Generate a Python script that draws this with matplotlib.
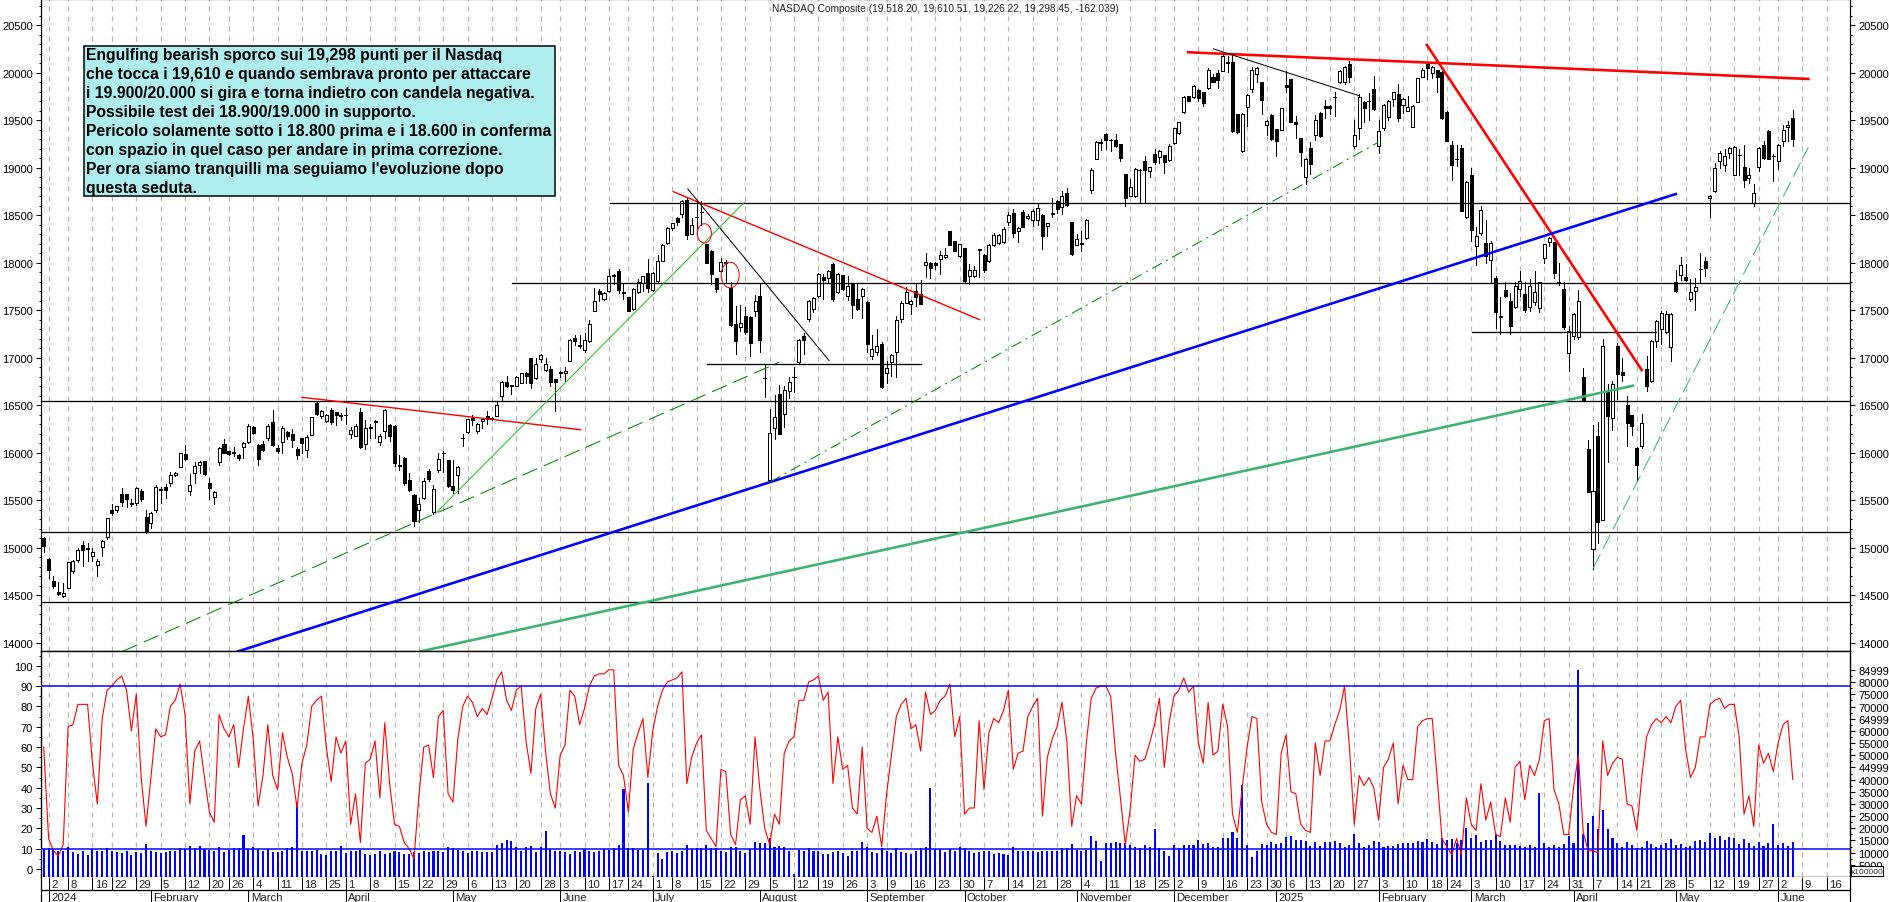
import matplotlib
matplotlib.use("Agg")
import matplotlib.pyplot as plt
from matplotlib.patches import Ellipse, Rectangle

plt.rcParams['font.family'] = ['Liberation Sans', 'DejaVu Sans']

TITLE = "NASDAQ Composite (19,518.20, 19,610.51, 19,226.22, 19,298.45, -162.039)"

opens = [15096,14879,14644,14528,14493,14570,14749,14868,15023,14995,
	14914,14819,15002,15107,15391,15398,15563,15563,15470,15468,
	15600,15321,15254,15395,15620,15637,15682,15767,15844,15980,
	15598,15781,15865,15907,15675,15535,15903,16086,16012,15990,
	15974,16061,16114,16265,16082,16090,16149,16317,16044,16114,
	16212,16200,16037,16149,16030,16188,16521,16384,16331,16444,
	16423,16390,16398,16198,16177,16423,16093,16272,16335,16107,
	16230,16286,16279,15870,15942,15707,15553,15398,15521,15802,
	15370,15819,16000,15921,15644,15760,16150,16212,16363,16226,
	16331,16380,16360,16388,16598,16739,16710,16697,16735,16837,
	16991,16781,16984,16872,16879,16774,16851,16833,16963,17202,
	17132,17082,17170,17493,17703,17616,17697,17868,17907,17690,
	17633,17510,17693,17785,17890,17714,17809,18020,18202,18367,
	18468,18510,18661,18304,18476,18535,18195,18121,17833,17914,
	18000,17735,17353,17318,17433,17423,17493,17644,16780,15714,
	16254,16616,16402,16644,16791,16949,17230,17406,17510,17651,
	17844,17833,17984,17686,17868,17651,17774,17616,17644,17581,
	17019,17061,17142,16833,16949,17061,17405,17574,17563,17703,
	17668,17974,17991,17995,18037,18055,18328,18226,18072,18153,
	17861,17861,18140,18083,18020,18184,18202,18212,18423,18521,
	18328,18528,18468,18451,18451,18500,18381,18525,18647,18581,
	18728,18423,18188,18210,18254,18767,19090,19255,19353,19290,
	19286,19244,18932,18704,18697,18977,19065,18967,19142,19107,
	19132,19079,19255,19360,19581,19749,19739,19820,19791,19834,
	19949,19995,20020,20110,20107,19563,19177,19640,19827,19984,
	19897,19451,19553,19405,19398,19869,19932,19475,19307,18904,
	19202,19342,19574,19651,19651,19745,19897,19897,20090,19230,
	19413,19686,19700,19826,19223,19416,19535,19721,19774,19662,
	19598,19430,19693,19956,20090,19991,20027,20009,19581,19237,
	19090,19205,18476,18921,18170,18307,18202,18026,17834,17440,
	17711,17598,17528,17721,17668,17528,17588,17517,18044,18212,
	18212,17798,17721,17044,17223,17212,16791,16037,14984,16177,
	15293,16633,16360,17118,16844,16500,16395,16047,16072,16879,
	16756,17177,17300,17265,17107,17791,17872,17844,17616,17703,
	17930,18012,18676,18756,19072,19030,19150,18925,19130,19002,
	18886,18627,19009,19237,19384,19125,19065,19283,19430,19518.20]

highs = [15110,14886,14696,14633,14626,14844,14870,15000,15065,15047,
	15000,14880,15075,15307,15457,15440,15627,15563,15510,15640,
	15618,15400,15375,15660,15640,15670,15790,15800,16000,16080,
	15770,15900,15915,15910,15730,15600,16060,16140,16020,16060,
	15985,16110,16300,16280,16090,16120,16300,16450,16080,16280,
	16225,16250,16060,16150,16180,16370,16540,16445,16410,16470,
	16430,16420,16470,16270,16300,16470,16340,16300,16345,16200,
	16460,16300,16290,15970,15950,15780,15560,15520,15730,15830,
	15660,15990,16020,15925,15925,15860,16190,16350,16390,16310,
	16355,16440,16370,16530,16750,16810,16710,16810,16840,16850,
	16995,16990,17040,16990,16915,16774,16860,16900,17200,17240,
	17240,17260,17400,17735,17720,17685,17930,17880,17930,17780,
	17640,17730,17830,17860,18040,17895,18080,18190,18370,18420,
	18480,18660,18680,18470,18650,18650,18200,18130,17840,18050,
	18030,17800,17546,17550,17528,17440,17660,17780,16925,16460,
	16610,16710,16705,16790,16900,17190,17260,17610,17640,17890,
	17880,17920,18000,17885,17870,17860,17780,17780,17730,17590,
	17240,17300,17160,16960,17040,17440,17590,17740,17610,17770,
	17820,18100,18010,18010,18120,18150,18330,18230,18200,18155,
	17980,17960,18140,18085,18200,18310,18300,18370,18530,18560,
	18370,18550,18510,18560,18620,18510,18420,18680,18660,18750,
	18780,18425,18300,18330,18460,19000,19280,19300,19360,19295,
	19350,19250,18935,18880,18990,18985,19120,19010,19190,19180,
	19135,19250,19420,19480,19750,19755,19870,19825,19800,20050,
	19985,20030,20200,20175,20190,19565,19570,19770,20060,20060,
	19900,19500,19560,19410,19630,20020,19935,19540,19310,19100,
	19270,19550,19585,19710,19655,19790,20030,20065,20120,19500,
	19770,19700,19780,19960,19500,19670,19710,19800,19880,19730,
	19750,19660,19945,20050,20110,20070,20030,20015,19590,19280,
	19240,19240,18860,18990,18370,18600,18450,18230,17860,17640,
	17800,17680,17800,17910,17800,17830,17910,17800,18200,18270,
	18220,18000,17790,17330,17470,17710,16890,16130,16290,16320,
	17190,16720,16750,17150,17000,16600,16400,16060,16410,17020,
	17180,17400,17490,17490,17470,17920,18060,17980,17830,17840,
	18095,18060,18710,19050,19170,19200,19215,19225,19190,19240,
	19000,18830,19220,19280,19395,19140,19245,19450,19490,19610.51]

lows = [14956,14680,14577,14500,14482,14570,14728,14850,14806,14854,
	14860,14698,14915,15090,15340,15370,15440,15430,15440,15450,
	15490,15150,15210,15370,15470,15520,15650,15750,15844,15920,
	15555,15680,15780,15760,15510,15460,15870,15990,15975,15960,
	15925,15940,16100,16195,15870,16020,16130,16070,15990,16000,
	16145,16060,15930,16000,15950,16180,16400,16360,16320,16300,
	16290,16340,16300,16150,16170,16050,16040,16150,16150,16080,
	16150,16120,15860,15820,15660,15590,15230,15270,15510,15700,
	15350,15790,15800,15640,15570,15570,16070,16210,16290,16210,
	16260,16300,16340,16385,16540,16690,16620,16695,16730,16730,
	16680,16770,16950,16860,16700,16440,16800,16750,16960,17130,
	17100,17060,17160,17490,17600,17610,17690,17770,17680,17620,
	17490,17500,17680,17700,17690,17700,17800,18015,18195,18340,
	18395,18480,18250,18300,18300,18390,17990,17775,17690,17900,
	17800,17330,17037,17280,17250,17015,17440,17060,16587,15700,
	16145,16190,16270,16570,16640,16945,17040,17380,17480,17640,
	17620,17790,17590,17680,17710,17610,17420,17500,17420,17060,
	16987,17030,16680,16730,16810,16790,17370,17570,17460,17540,
	17560,17850,17840,17935,17875,18050,18180,18120,18060,17790,
	17770,17850,17850,17900,18010,18170,18190,18205,18400,18270,
	18220,18370,18460,18380,18400,18140,18280,18480,18520,18510,
	18590,18080,18180,18120,18250,18730,19085,19180,19195,19170,
	19220,19070,18600,18700,18690,18630,18630,18900,19040,19050,
	18940,19070,19250,19355,19575,19695,19735,19700,19650,19830,
	19895,19835,20015,20010,19375,19360,19160,19440,19800,19900,
	19560,19340,19285,19120,19390,19790,19475,19310,19020,18830,
	18930,19290,19320,19520,19560,19540,19890,19880,19895,19210,
	19300,19480,19500,19610,19150,19400,19500,19650,19490,19570,
	19590,19425,19685,19950,19930,19940,19800,19510,19280,18870,
	19020,18540,18470,18230,17970,18290,18000,17785,17310,17250,
	17640,17250,17520,17650,17480,17490,17550,17480,18000,18170,
	17840,17760,17300,16860,17200,17190,16550,15580,14770,15050,
	15285,15900,16240,16560,16750,16070,16180,15700,16050,16650,
	16745,17110,17140,17260,16960,17690,17820,17810,17590,17500,
	17780,17860,18480,18740,18990,18960,19100,18920,18920,18800,
	18840,18600,18960,19090,19090,18860,18985,19230,19280,19226.22]

closes = [15012,14767,14598,14507,14524,14844,14861,14973,14977,14984,
	14949,14854,15065,15307,15367,15433,15482,15510,15460,15630,
	15510,15160,15360,15633,15610,15610,15767,15788,15991,15931,
	15654,15861,15903,15774,15630,15588,16044,15998,15980,16010,
	15942,16096,16279,16205,15931,16026,16275,16079,16016,16261,
	16177,16135,15974,16103,16163,16370,16405,16433,16391,16317,
	16395,16380,16398,16240,16275,16054,16254,16262,16325,16170,
	16444,16177,15889,15860,15675,15602,15279,15454,15696,15717,
	15612,15928,15990,15647,15602,15844,16150,16349,16338,16303,
	16349,16352,16350,16503,16739,16703,16697,16791,16833,16802,
	16735,16928,17026,16928,16746,16739,16833,16854,17188,17177,
	17118,17184,17350,17598,17665,17683,17855,17860,17714,17680,
	17493,17720,17798,17855,17728,17890,18020,18188,18360,18412,
	18430,18644,18290,18398,18476,18535,17995,17876,17721,18009,
	18005,17342,17177,17360,17270,17149,17591,17188,16780,16202,
	16370,16195,16661,16739,16791,17188,17188,17591,17626,17879,
	17816,17914,17616,17879,17721,17749,17556,17511,17721,17142,
	17089,17125,16686,16886,17026,17400,17574,17686,17598,17633,
	17567,18009,17946,17974,18075,18075,18184,18125,18195,17802,
	17925,17921,18135,17921,18184,18293,18290,18353,18504,18311,
	18360,18377,18493,18539,18570,18283,18412,18510,18563,18704,
	18606,18089,18248,18200,18447,18977,19265,19272,19293,19290,
	19230,19104,18679,18791,18984,18977,18977,19002,19055,19170,
	19062,19230,19413,19476,19739,19704,19855,19735,19679,20030,
	19904,19925,20170,20100,19388,19377,19563,19763,20030,20048,
	19711,19486,19300,19283,19623,19848,19483,19462,19160,19090,
	19040,19504,19335,19630,19630,19745,20013,20055,19950,19342,
	19739,19627,19695,19616,19388,19658,19697,19791,19521,19721,
	19640,19651,19942,20030,20044,20055,19956,19521,19283,19030,
	19085,18546,18844,18346,18283,18553,18072,18202,17475,17430,
	17651,17330,17749,17809,17504,17749,17686,17791,18191,18261,
	17890,17798,17318,17280,17458,17598,16556,15588,15598,15272,
	17118,16388,16721,16830,16819,16310,16282,15872,16307,16703,
	17170,17388,17468,17458,17458,17703,17977,17820,17686,17738,
	17930,17939,18704,18990,19150,19118,19209,19220,19130,18870,
	18925,18732,19202,19097,19090,19125,19240,19398,19451,19298.45]

# oscillator, left scale of the lower panel
osc = [60,15,9,6.5,12,70,71,81,81,81,
	52,32,74,88,90,93,95,88,68,86,
	45,21,45,69,65,66,80,83,91,76,
	32,58,63,45,28,23,76,69,65,71,
	50,69,85,64,31,46,71,46,39,67,
	55,47,30,52,61,80,83,85,60,43,
	65,57,63,22,37,13,52,54,63,35,
	72,42,22,21,13,10,5,36,60,61,
	45,75,78,37,33,64,80,85,82,75,
	79,76,84,93,97,83,78,88,90,63,
	47,79,86,58,37,30,56,61,88,85,
	71,79,90,95,96,96,98,98,51,46,
	28,59,67,74,45,68,80,88,92,93,
	94,97,42,55,62,66,19,15,11,49,
	48,17,12,34,36,22,65,39,20,12,
	27,22,57,63,65,83,83,92,93,95,
	83,87,42,65,49,51,30,27,60,20,
	18,26,11,37,56,75,81,84,69,71,
	58,87,76,78,83,85,91,65,75,27,
	30,30,73,39,67,74,72,78,88,49,
	57,58,75,80,84,26,55,64,70,82,
	63,21,36,32,62,84,89,90,90,85,
	57,35,12,29,56,53,54,62,71,84,
	50,72,85,88,94,87,90,62,52,82,
	56,58,81,70,27,18,40,60,75,74,
	33,22,18,17,57,66,38,37,22,19,
	18,62,46,63,63,71,78,90,60,22,
	46,41,45,40,24,50,54,62,32,51,
	44,44,70,73,74,74,45,15,11,7,
	15,7,35,22,19,42,24,33,17,16,
	35,23,50,53,34,51,46,54,73,74,
	39,32,17,17,40,56,18,9,9,8,
	63,46,52,55,54,32,31,19,45,65,
	71,74,72,75,72,80,83,59,45,50,
	65,65,81,83,84,79,81,81,65,27,
	36,21,61,52,57,48,62,71,73,44]

# volume in thousands of the right scale (x100000)
volume = [11.4,11.9,11.6,10.8,10.8,12.3,10.3,9.3,10.5,9.2,
	11.6,10.5,10.8,11.9,10.8,10.3,9.7,10.5,9.2,10.3,
	9.7,13.7,10.8,10.3,10.0,10.3,10.5,10.8,11.9,11.6,
	12.7,11.9,12.7,11.6,11.2,10.5,12.3,10.3,11.1,11.9,
	11.9,17.4,11.4,12.3,11.6,10.5,11.6,10.3,10.3,10.8,
	11.9,12.3,30.8,10.8,10.8,10.8,11.2,9.5,9.2,10.7,
	10.7,12.7,9.9,10.8,10.8,11.2,9.6,9.0,9.3,10.7,
	9.6,9.9,10.7,10.3,9.5,9.6,10.3,9.7,10.7,10.3,
	10.7,10.5,10.3,12.3,11.9,11.0,10.7,9.9,10.7,10.5,
	10.3,10.3,10.3,13.3,14.1,15.3,14.9,12.3,10.8,12.3,
	12.7,10.3,12.3,18.8,11.4,10.8,10.8,10.3,9.6,10.8,
	10.3,11.6,10.8,10.3,10.8,11.5,11.0,11.9,13.3,36.0,
	12.0,11.9,11.2,11.2,38.8,0.4,9.9,7.5,10.3,10.7,
	9.9,10.8,13.0,11.6,11.9,11.9,13.3,11.9,11.9,10.8,
	10.3,12.3,12.3,10.7,9.9,11.4,14.4,14.1,14.1,16.0,
	12.3,12.7,12.3,10.8,1.4,11.1,10.5,11.9,10.7,10.7,
	9.3,9.5,10.3,10.7,10.0,8.6,10.5,10.7,14.4,12.3,
	10.3,9.9,11.9,10.8,9.9,11.9,10.3,10.0,9.5,10.5,
	11.9,12.3,36.7,11.4,11.4,10.3,11.6,10.8,12.3,11.9,
	10.8,10.0,10.3,10.8,10.5,9.6,10.0,9.6,9.2,12.3,
	10.8,10.8,10.8,10.8,10.3,10.8,10.8,10.7,10.8,11.9,
	11.9,13.6,11.2,10.8,11.2,16.9,14.9,6.7,14.0,14.1,
	14.5,13.8,14.1,13.3,12.2,11.9,13.0,12.3,19.6,11.9,
	10.8,8.6,13.3,11.9,13.3,13.3,13.0,15.2,13.6,14.1,
	12.3,12.5,16.0,16.0,18.5,16.0,37.9,13.3,8.1,10.8,
	13.7,13.3,14.4,13.4,14.1,16.3,16.9,15.1,15.3,14.9,
	12.7,14.4,12.7,14.5,14.5,14.9,14.0,12.5,13.0,17.7,
	14.1,12.2,13.0,14.9,14.5,12.5,12.7,12.7,13.7,14.0,
	14.0,14.0,14.7,14.4,15.5,14.4,13.7,16.0,15.3,15.8,
	14.1,15.1,20.3,16.2,17.1,14.4,15.1,15.3,17.1,14.9,
	13.3,13.3,13.3,12.7,12.3,13.3,12.3,34.3,14.1,12.3,
	13.3,12.3,13.4,16.9,13.8,84.9,17.8,22.3,24.9,19.9,
	27.7,19.6,16.2,14.1,12.3,14.4,13.3,11.9,12.3,14.9,
	13.7,12.3,13.3,14.1,15.5,13.3,13.7,12.3,12.7,14.8,
	15.3,14.4,18.2,16.2,16.9,15.3,16.6,16.2,13.7,15.5,
	14.0,12.7,14.5,12.7,14.1,21.8,13.3,14.1,12.7,14.5]

# weekly labels and the bar each one falls on
week_labels = ['2','8','16','22','29','5','12','20','26','4','11','18','25','1','8','15','22','29',
	'6','13','20','28','3','10','17','24','1','8','15','22','29','5','12','19','26','3','9','16','23','30',
	'7','14','21','28','4','11','18','25','2','9','16','23','30','6','13','20','27','3','10','18','24',
	'3','10','17','24','31','7','14','21','28','5','12','19','27','2','9','16']
week_bars = [1,5,10,14,19,24,29,34,38,43,48,53,58,62,67,72,77,82,
	87,92,97,102,106,111,116,120,125,129,134,139,144,149,154,159,164,169,173,178,183,188,
	193,198,203,208,213,218,223,228,232,237,242,247,251,255,259,264,269,274,279,284,288,
	293,298,303,308,313,318,323,327,332,337,342,347,352,356,361,366]
month_labels = ['2024','February','March','April','May','June','July','August','September','October','November','December',
	'2025','February','March','April','May','June']
month_bars = [1,22,42,62,84,106,125,147,169,189,212,232,253,274,293,314,335,356]

# support levels: price, first bar, last bar (None = whole width)
level_prices = [18623,17781,16539,15159,14423,16928,17265]
level_from = [116.2,96.2,None,None,None,136.2,293.2]
level_to = [None,None,None,None,None,180,331]

# trend lines: bar and price of both ends
thick_red_x = [[234.9,362.2],[283.9,328]]
thick_red_y = [[20213,19932],[20290,16868]]
blue_x = [39.9,335]
blue_y = [13907,18721]
seagreen_x = [77.4,326.2]
seagreen_y = [13907,16703]
thin_red_x = [[53,110.2],[129.2,192.1]]
thin_red_y = [[16581,16240],[18746,17398]]
thin_black_x = [[132.2,161.2],[240.1,270]]
thin_black_y = [[18774,16967],[20248,19756]]
lime_x = [80.3,143.8]
lime_y = [15352,18634]
long_dash_x = [16.2,150.9]
long_dash_y = [13907,16949]
dash_dot_x = [149.2,273.9]
dash_dot_y = [15693,19265]
dash_sea_x = [318,362.2]
dash_sea_y = [14780,19212]

# red circles: bar, price, width in bars, height in points
circle_x = [135.6,140.9]
circle_y = [18307,17868]
circle_w = [2.9,3.7]
circle_h = [203,270]

note_lines = ["Engulfing bearish sporco sui 19,298 punti per il Nasdaq",
	"che tocca i 19,610 e quando sembrava pronto per attaccare",
	"i 19.900/20.000 si gira e torna indietro con candela negativa.",
	"Possibile test dei 18.900/19.000 in supporto.",
	"Pericolo solamente sotto i 18.800 prima e i 18.600 in conferma",
	"con spazio in quel caso per andare in prima correzione.",
	"Per ora siamo tranquilli ma seguiamo l'evoluzione dopo",
	"questa seduta."]

vol_ticks = [5,10,15,20,25,30,35,40,45,50,55,60,65,70,75,80,85]
vol_labels = ['5000','10000','15000','20000','25000','30000','35000','40000','44999','50000','55000','60000','64999','70000','75000','80000','84999']

W, H = 1890, 903
LEFT, RIGHT = 41.4, 1850
PRICE_BOTTOM, OSC_BOTTOM = 652.3, 878
TICK_FS = 8
GRID = dict(color='#b8b8b8', lw=0.9, ls=(0, (4, 4)), zorder=0)
px = 0.72

def add_axes(top, bottom):
	return fig.add_axes([LEFT/W, 1-bottom/H, (RIGHT-LEFT)/W, (bottom-top)/H])

fig = plt.figure(figsize=(W/100, H/100), dpi=100, facecolor='white')
xlim = (-0.478, 370.75)
bars = range(len(opens))

# price panel
ax = add_axes(0, PRICE_BOTTOM)
ax.set_xlim(xlim)
ax.set_ylim(13907.4, 20773.7)
ax.set_xticks([])
ax.vlines(week_bars, 13907.4, 20773.7, **GRID)
ax.vlines(bars, lows, highs, color='black', lw=1*px, zorder=3, antialiased=False)
ax.bar(bars, [c-o for o, c in zip(opens, closes)], bottom=opens, width=0.62,
	color=['white' if c >= o else 'black' for o, c in zip(opens, closes)],
	edgecolor='black', lw=1*px, zorder=4, antialiased=False)

for y, x0, x1 in zip(level_prices, level_from, level_to):
	ax.plot([xlim[0] if x0 is None else x0, xlim[1] if x1 is None else x1], [y, y], color='black', lw=1.3*px, zorder=5)
for xs, ys in zip(thick_red_x, thick_red_y):
	ax.plot(xs, ys, color='#ff0000', lw=2.6*px, zorder=6)
ax.plot(blue_x, blue_y, color='#0000ff', lw=2.6*px, zorder=6)
ax.plot(seagreen_x, seagreen_y, color='#3cb371', lw=2.6*px, zorder=6)
for xs, ys in zip(thin_red_x, thin_red_y):
	ax.plot(xs, ys, color='#ff0000', lw=1.4*px, zorder=6)
for xs, ys in zip(thin_black_x, thin_black_y):
	ax.plot(xs, ys, color='black', lw=1*px, zorder=6)
ax.plot(lime_x, lime_y, color='#22c022', lw=1*px, zorder=6)
ax.plot(long_dash_x, long_dash_y, color='#008000', lw=1*px, ls=(0, (16, 7)), zorder=6)
ax.plot(dash_dot_x, dash_dot_y, color='#008000', lw=1*px, ls=(0, (11, 5, 2, 5)), zorder=6)
ax.plot(dash_sea_x, dash_sea_y, color='#3cb371', lw=1*px, ls=(0, (16, 6)), zorder=6)
for x, y, w, h in zip(circle_x, circle_y, circle_w, circle_h):
	ax.add_patch(Ellipse((x, y), w, h, fill=False, edgecolor='#ff0000', lw=1*px, zorder=7))

ax.set_yticks(range(14000, 20501, 500))
ax.set_yticks(range(14000, 20701, 100), minor=True)
ax.tick_params(axis='y', which='major', left=True, right=True, labelleft=True, labelright=True, length=5*px, width=1*px, labelsize=TICK_FS, pad=2.5)
ax.tick_params(axis='y', which='minor', left=True, right=True, length=2.5*px, width=1*px)
fig.text(945/W, 1-8.7/H, TITLE, ha='center', va='center', fontsize=7.25, color='#222222')

# note box
fig.add_artist(Rectangle((84.4/W, 1-196.7/H), (555-84.4)/W, 150/H, transform=fig.transFigure, facecolor='#afeeee', edgecolor='black', lw=1.5*px, zorder=10))
for n, line in enumerate(note_lines):
	fig.text(86.5/W, 1-(55.5+n*18.95)/H, line, ha='left', va='center', fontsize=11.35, fontweight='bold', color='black', zorder=11)

# lower panel, volume behind the oscillator
ax_vol = add_axes(PRICE_BOTTOM, OSC_BOTTOM)
ax_vol.set_xlim(xlim)
ax_vol.set_ylim(0, 92.7)
ax_vol.set_xticks([])
ax_vol.vlines(week_bars, 0, 92.7, **GRID)
ax_vol.bar(bars, volume, width=0.42, color='#0000ff', antialiased=False, zorder=2)
ax_vol.yaxis.tick_right()
ax_vol.set_yticks(vol_ticks)
ax_vol.set_yticklabels(vol_labels)
ax_vol.set_yticks([v*2.5 for v in range(1, 35)], minor=True)
ax_vol.tick_params(axis='y', which='major', length=5*px, width=1*px, labelsize=TICK_FS, pad=2.5)
ax_vol.tick_params(axis='y', which='minor', length=2.5*px, width=1*px)

ax_osc = add_axes(PRICE_BOTTOM, OSC_BOTTOM)
ax_osc.patch.set_visible(False)
ax_osc.set_xlim(xlim)
ax_osc.set_ylim(-3.93, 107.1)
ax_osc.set_xticks([])
ax_osc.plot(bars, osc, color='#ff0000', lw=1.1*px, zorder=4)
ax_osc.axhline(90, color='#0000ff', lw=1.5*px, zorder=5)
ax_osc.axhline(10, color='#0000ff', lw=1.5*px, zorder=5)
ax_osc.set_yticks(range(0, 101, 10))
ax_osc.set_yticks(range(0, 106, 5), minor=True)
ax_osc.tick_params(axis='y', which='major', length=5*px, width=1*px, labelsize=TICK_FS, pad=2.5)
ax_osc.tick_params(axis='y', which='minor', length=2.5*px, width=1*px)

# date strip
ax_dates = add_axes(OSC_BOTTOM, H)
ax_dates.set_xlim(xlim)
ax_dates.set_ylim(H, OSC_BOTTOM)
ax_dates.set_xticks([])
ax_dates.set_yticks([])
ax_dates.axhline(891, color='black', lw=1.3*px)
ax_dates.vlines(week_bars, OSC_BOTTOM, 891, color='black', lw=1*px)
ax_dates.vlines(month_bars, 891, H, color='black', lw=1*px)
for b, label in zip(week_bars, week_labels):
	ax_dates.text(b+0.5, 884.8, label, ha='left', va='center', fontsize=8.2, color='#222222')
for b, label in zip(month_bars, month_labels):
	ax_dates.text(b+0.5, 898, label, ha='left', va='center', fontsize=8.2, color='#222222')
for side in ['top', 'bottom']:
	ax_dates.spines[side].set_visible(False)
for a in [ax, ax_vol, ax_osc, ax_dates]:
	for s in a.spines.values():
		s.set_linewidth(1.2*px)

# scale factor box under the right axis, it covers the lowest label
fig.add_artist(Rectangle((1851/W, 1-877/H), 32/W, 10/H, transform=fig.transFigure, facecolor='white', edgecolor='black', lw=1*px, zorder=10))
fig.text(1867/W, 1-872.2/H, "x100000", ha='center', va='center', fontsize=6, color='#333333', zorder=11)

fig.savefig('out.png', dpi=100)
